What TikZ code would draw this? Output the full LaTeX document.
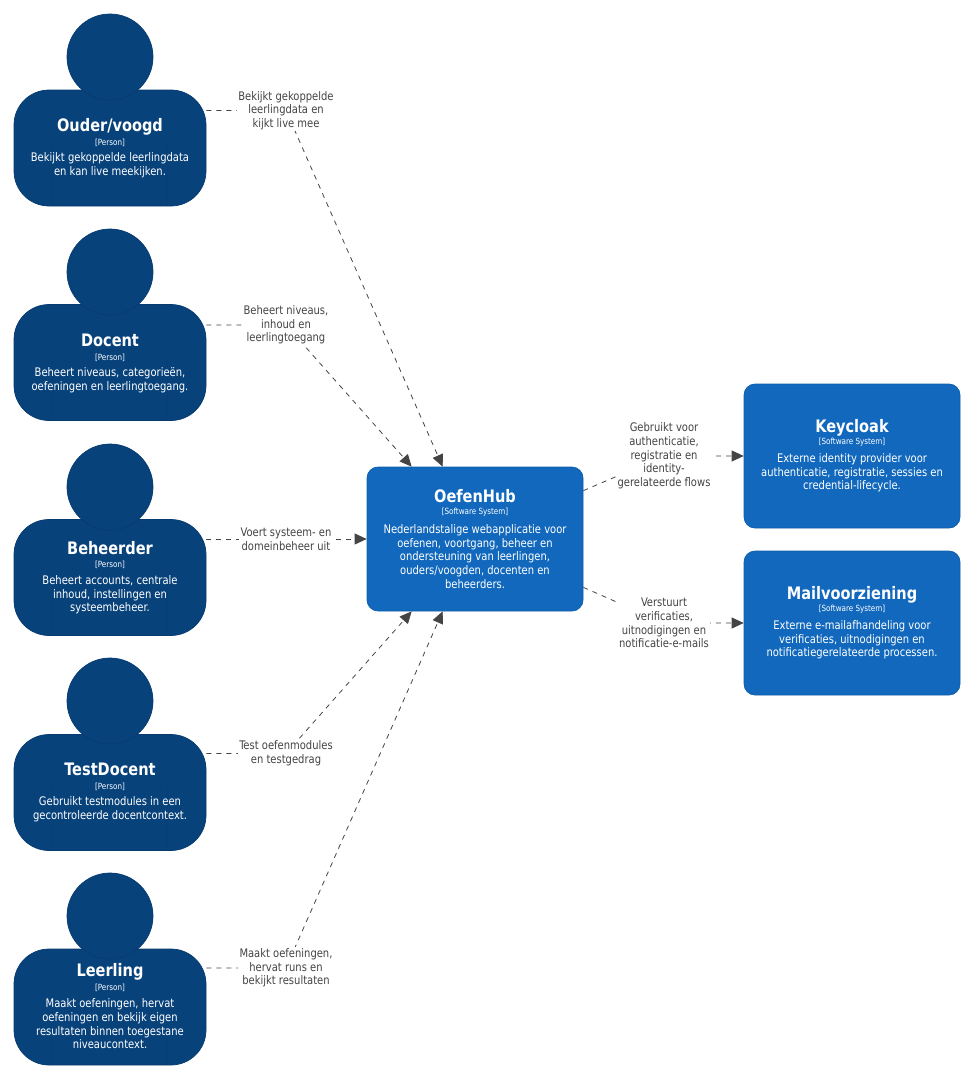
\documentclass[tikz,border=0pt]{standalone}
\usepackage{fontspec}
\setmainfont[FakeStretch=0.94]{DejaVu Sans Condensed}
\usetikzlibrary{arrows.meta,calc,backgrounds}
\definecolor{personblue}{HTML}{08427B}
\definecolor{personedge}{HTML}{073B6F}
\definecolor{sysblue}{HTML}{1168BD}
\definecolor{sysedge}{HTML}{0F5EAA}
\definecolor{labelgrey}{HTML}{444444}
\tikzset{
  head/.style={circle,fill=personblue,draw=personedge,line width=.7pt,minimum size=86pt,inner sep=0pt},
  body/.style={rectangle,rounded corners=35pt,fill=personblue,draw=personedge,line width=.7pt,minimum width=192pt,minimum height=116pt,inner sep=0pt},
  sysbox/.style={rectangle,rounded corners=11pt,fill=sysblue,draw=sysedge,line width=.7pt,inner sep=0pt},
  hubbox/.style={sysbox,minimum width=216pt,minimum height=144pt},
  extbox/.style={sysbox,minimum width=216pt,minimum height=144pt},
  titletext/.style={text=white,anchor=base,font=\fontsize{17.2}{20}\selectfont\bfseries,inner sep=0pt},
  tagtext/.style={text=white,font=\fontsize{8.5}{10}\selectfont,inner sep=0pt},
  desctext/.style={text=white,align=center,font=\fontsize{11.8}{13.7}\selectfont,inner sep=0pt},
  linklabel/.style={text=labelgrey,fill=white,align=center,font=\fontsize{11.8}{13.7}\selectfont,inner sep=1.5pt},
  link/.style={draw=labelgrey,line width=.8pt,dash pattern=on 5pt off 5pt},
  linkhead/.style={link,-{Triangle[length=12pt,width=11pt,fill=labelgrey]}},
  hair/.style={draw=personedge,line width=.4pt}
}
\begin{document}
\begin{tikzpicture}[x=1pt,y=-1pt]
\useasboundingbox (0,0) rectangle (979,1084);
% persons
\node[body] (p1) at (110,148) {};
\node[head] (h1) at (110,57) {};
\node[body] (p2) at (110,362.5) {};
\node[head] (h2) at (110,272) {};
\node[body] (p3) at (110,577.5) {};
\node[head] (h3) at (110,487) {};
\node[body] (p4) at (110,792.5) {};
\node[head] (h4) at (110,701) {};
\node[body] (p5) at (110,1007) {};
\node[head] (h5) at (110,916) {};
\foreach \p in {p1,p2,p3,p4,p5}{
  \draw[hair,opacity=.3] ($(\p.south)+(-58,0)$) -- ++(0,-66);
  \draw[hair,opacity=.3] ($(\p.south)+(57,0)$) -- ++(0,-66);
}
\node[titletext] (t1) at (110,131) {Ouder/voogd};
\node[tagtext] (g1) at (110,142.5) {[Person]};
\node[desctext] (d1) at (110,165.5) {Bekijkt gekoppelde leerlingdata\\en kan live meekijken.};
\node[titletext] (t2) at (110,346) {Docent};
\node[tagtext] (g2) at (110,357.5) {[Person]};
\node[desctext] (d2) at (110,380.5) {Beheert niveaus, categorieën,\\oefeningen en leerlingtoegang.};
\node[titletext] (t3) at (110,554) {Beheerder};
\node[tagtext] (g3) at (110,565) {[Person]};
\node[desctext] (d3) at (110,595) {Beheert accounts, centrale\\inhoud, instellingen en\\systeembeheer.};
\node[titletext] (t4) at (110,775.5) {TestDocent};
\node[tagtext] (g4) at (110,787) {[Person]};
\node[desctext] (d4) at (110,809.5) {Gebruikt testmodules in een\\gecontroleerde docentcontext.};
\node[titletext] (t5) at (110,976) {Leerling};
\node[tagtext] (g5) at (110,987.5) {[Person]};
\node[desctext] (d5) at (110,1024) {Maakt oefeningen, hervat\\oefeningen en bekijk eigen\\resultaten binnen toegestane\\niveaucontext.};
% systems
\node[hubbox] (hub) at (475,539) {};
\node[titletext] (thub) at (475,502) {OefenHub};
\node[tagtext] (ghub) at (475,512.5) {[Software System]};
\node[desctext] (dhub) at (475,556.5) {Nederlandstalige webapplicatie voor\\oefenen, voortgang, beheer en\\ondersteuning van leerlingen,\\ouders/voogden, docenten en\\beheerders.};
\node[extbox] (kc) at (852,456) {};
\node[titletext] (tkc) at (852,432) {Keycloak};
\node[tagtext] (gkc) at (852,442.5) {[Software System]};
\node[desctext] (dkc) at (852,473) {Externe identity provider voor\\authenticatie, registratie, sessies en\\credential-lifecycle.};
\node[extbox] (mail) at (852,623) {};
\node[titletext] (tmail) at (852,599) {Mailvoorziening};
\node[tagtext] (gmail) at (852,609.5) {[Software System]};
\node[desctext] (dmail) at (852,640) {Externe e-mailafhandeling voor\\verificaties, uitnodigingen en\\notificatiegerelateerde processen.};
% labels
\node[linklabel] (l1) at (286,110.5) {Bekijkt gekoppelde\\leerlingdata en\\kijkt live mee};
\node[linklabel] (l2) at (286,325) {Beheert niveaus,\\inhoud en\\leerlingtoegang};
\node[linklabel] (l3) at (286,539.5) {Voert systeem- en\\domeinbeheer uit};
\node[linklabel] (l4) at (286,753.5) {Test oefenmodules\\en testgedrag};
\node[linklabel] (l5) at (286,968) {Maakt oefeningen,\\hervat runs en\\bekijkt resultaten};
\node[linklabel] (l6) at (664,456) {Gebruikt voor\\authenticatie,\\registratie en\\identity-\\gerelateerde flows};
\node[linklabel] (l7) at (664,623) {Verstuurt\\verificaties,\\uitnodigingen en\\notificatie-e-mails};
% connectors
\begin{scope}[on background layer]
\coordinate (hubTL) at ($(hub.north west)+(45,0)$);
\coordinate (hubTR) at ($(hub.north west)+(76,0)$);
\coordinate (hubBL) at ($(hub.south west)+(45,0)$);
\coordinate (hubBR) at ($(hub.south west)+(76,0)$);
\coordinate (hubOutA) at ($(hub.north east)+(0,24)$);
\coordinate (hubOutB) at ($(hub.south east)+(0,-24)$);
\draw[linkhead] (p1.east |- l1) -- (l1.center) -- (hubTR);
\draw[linkhead] (p2.east |- l2) -- (l2.center) -- (hubTL);
\draw[linkhead] (p3.east |- hub.west) -- (hub.west);
\draw[linkhead] (p4.east |- l4) -- (l4.center) -- (hubBL);
\draw[linkhead] (p5.east |- l5) -- (l5.center) -- (hubBR);
\draw[linkhead] (hubOutA) -- (l6.center) -- (kc.west);
\draw[linkhead] (hubOutB) -- (l7.center) -- (mail.west);
\end{scope}
\end{tikzpicture}
\end{document}
